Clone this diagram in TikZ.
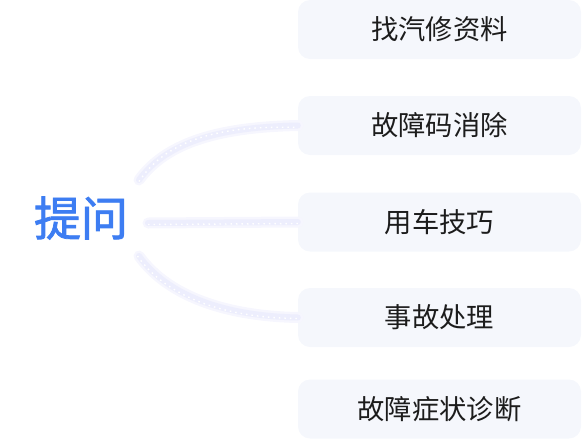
\documentclass[tikz,border=0pt]{standalone}
\usepackage{fontspec}
\setmainfont{Noto Sans CJK SC}
\newfontfamily\cjk{Noto Sans CJK SC}
\newfontfamily\cjkmed[FakeBold=1.6]{Noto Sans CJK SC}
\definecolor{boxfill}{HTML}{F5F7FC}
\definecolor{glow}{HTML}{EDEEFD}
\definecolor{glowb}{HTML}{F6F6FE}
\definecolor{qblue}{HTML}{3D7DF2}
\definecolor{txt}{HTML}{1C1C1C}
\tikzset{
  item/.style={draw=none, fill=boxfill, rounded corners=12pt, minimum width=283pt, minimum height=59pt, inner sep=0pt, font=\cjk\fontsize{27.3}{27.3}\selectfont, text=txt},
  glowwide/.style={line width=11pt, draw=glowb, line cap=round},
  glowline/.style={line width=6pt, draw=glow, line cap=round},
  dotline/.style={line width=1.4pt, draw=white, dash pattern=on 1.5pt off 4pt}
}
\begin{document}
\begin{tikzpicture}[x=1pt,y=-1pt]
\useasboundingbox (0,0) rectangle (582,440);
\coordinate (s1) at (139,180);
\coordinate (s2) at (148,223);
\coordinate (s3) at (139,256);
\node[item] (b1) at (439.5,29.5) {找汽修资料};
\node[item] (b2) at (439.5,125.5) {故障码消除};
\node[item] (b3) at (439.5,222) {用车技巧};
\node[item] (b4) at (439.5,317.5) {事故处理};
\node[item] (b5) at (439.5,409) {故障症状诊断};
\node[inner sep=0pt, text=qblue, font=\cjkmed\fontsize{47}{47}\selectfont] (q) at (81,218) {提问};
\draw[glowwide] (s1) .. controls (168,140) and (225,127) .. (b2.west);
\draw[glowwide] (s2) -- (b3.west);
\draw[glowwide] (s3) .. controls (168,296) and (225,316) .. (b4.west);
\draw[glowline] (s1) .. controls (168,140) and (225,127) .. (b2.west);
\draw[glowline] (s2) -- (b3.west);
\draw[glowline] (s3) .. controls (168,296) and (225,316) .. (b4.west);
\draw[dotline] ([yshift=-1.5pt]s1) .. controls (167,138) and (225,125) .. ([yshift=-2pt]b2.west);
\draw[dotline] ([yshift=-1.5pt]s2) -- ([yshift=-1.5pt]b3.west);
\draw[dotline] ([xshift=-1.5pt]s3) .. controls (166,297) and (225,318) .. ([yshift=-1pt]b4.west);
\end{tikzpicture}
\end{document}
